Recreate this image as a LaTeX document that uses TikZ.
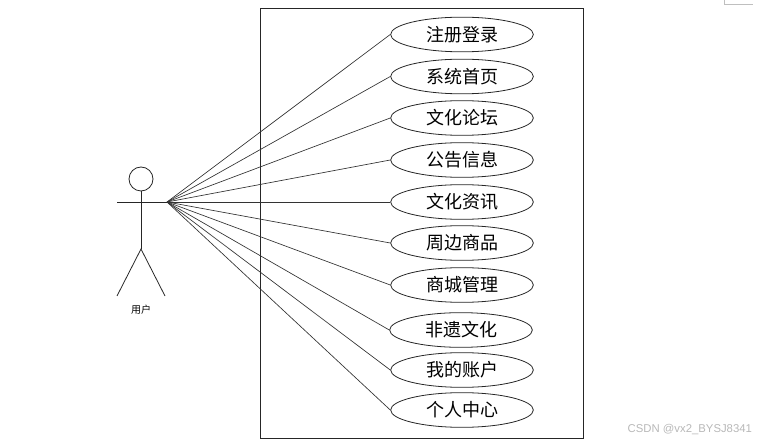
\documentclass[tikz,border=0pt]{standalone}
\usepackage{fontspec}
\setmainfont{Liberation Serif}
\newfontfamily\cjk{Noto Sans CJK SC}
\usetikzlibrary{shapes.geometric}
\begin{document}
\begin{tikzpicture}[x=0.75pt,y=-0.75pt,
  uc/.style={ellipse,draw=black!85,line width=0.6pt,minimum width=107pt,minimum height=26pt,inner sep=0pt,
    font=\cjk\fontsize{13.5}{14}\selectfont},
  link/.style={draw=black!80,line width=0.5pt},
  actorline/.style={draw=black!85,line width=0.6pt}]
\useasboundingbox (0,0) rectangle (782,445);
% faint corner mark
\draw[black!25,line width=0.5pt] (724,0) -- (724,4) -- (753,4);
% system boundary
\node[draw=black!85,line width=0.7pt,minimum width=242.25pt,minimum height=322.5pt,inner sep=0pt,anchor=north west] (sys) at (260,8) {};
% use cases
\node[uc] (u1) at (462,34.5) {注册登录};
\node[uc] (u2) at (462,76.5) {系统首页};
\node[uc] (u3) at (462,118) {文化论坛};
\node[uc] (u4) at (462,160) {公告信息};
\node[uc] (u5) at (462,202) {文化资讯};
\node[uc] (u6) at (462,243) {周边商品};
\node[uc] (u7) at (462,285) {商城管理};
\node[uc] (u8) at (461,330) {非遗文化};
\node[uc] (u9) at (462,370) {我的账户};
\node[uc] (u10) at (462,410) {个人中心};
% actor
\node[circle,draw=black!85,line width=0.6pt,minimum size=18pt,inner sep=0pt] (head) at (141,179) {};
\coordinate (hip) at (141,249);
\coordinate (handL) at (117,202);
\coordinate (hub) at (167,202);
\coordinate (footL) at (117,296);
\coordinate (footR) at (165,296);
\draw[actorline] (head) -- (hip);
\draw[actorline] (handL) -- (hub);
\draw[actorline] (footL) -- (hip) -- (footR);
\node[font=\cjk\fontsize{7.5}{8}\selectfont] (lbl) at (141,310) {用户};
% connectors
\foreach \k in {u1,u2,u3,u4,u5,u6,u7,u8,u9,u10}{\draw[link] (hub) -- (\k.west);}
% watermark
\node[text=black!28,font=\fontspec{Liberation Sans}\fontsize{8.5}{9}\selectfont,anchor=west] (wm) at (623,430) {CSDN @vx2\_BYSJ8341};
\end{tikzpicture}
\end{document}
